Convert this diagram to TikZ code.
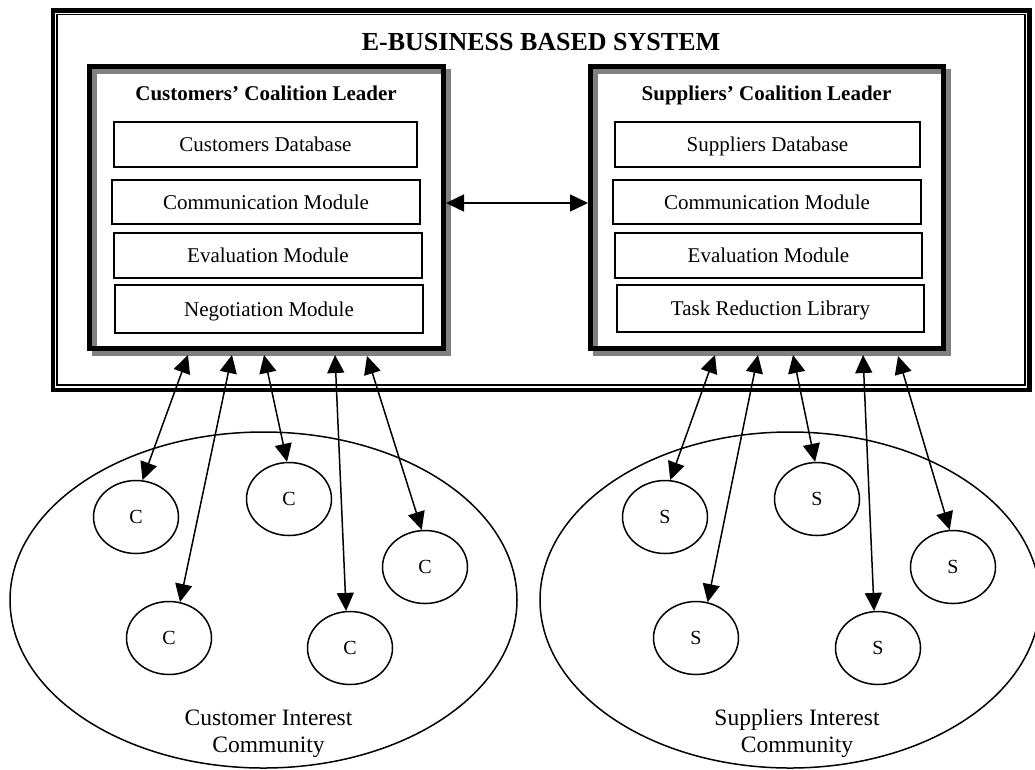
\documentclass[tikz,border=0pt]{standalone}
\usepackage{fontspec}
\setmainfont{Liberation Serif}
\usetikzlibrary{arrows.meta,shapes.geometric}
\tikzset{
  thickframe/.style={line width=4.5pt},
  thinframe/.style={line width=1.3pt},
  leader/.style={draw, rectangle, line width=5pt, inner sep=0pt},
  shadowline/.style={draw=black!50, line width=5pt},
  leadertitle/.style={font=\fontsize{21}{25}\selectfont\bfseries, anchor=base, inner sep=0pt},
  module/.style={draw, rectangle, line width=1.5pt, inner sep=0pt,
    font=\fontsize{21}{25}\selectfont, text height=14pt, text depth=0pt},
  member/.style={draw, ellipse, line width=1.5pt, inner sep=0pt,
    minimum width=85pt, minimum height=73pt, font=\fontsize{20}{24}\selectfont},
  community/.style={line width=1.5pt},
  commlabel/.style={font=\fontsize{23.5}{27}\selectfont, anchor=base, inner sep=0pt},
  dbl/.style={line width=1.5pt, {Triangle[length=18pt,width=17pt]}-{Triangle[length=18pt,width=17pt]}}
}
\begin{document}
\begin{tikzpicture}[x=1pt,y=-1pt]
\clip (0,0) rectangle (1035,769);
\fill[white] (0,0) rectangle (1035,769);

% outer frame
\draw[thickframe] (53,10.5) rectangle (1029.5,390);
\draw[thinframe] (57,14.5) rectangle (1025,385);
\node[font=\fontsize{26}{30}\selectfont\bfseries] (title) at (541,42) {E-BUSINESS BASED SYSTEM};

% leader boxes with shadows
\draw[shadowline] (94.5,71.5) rectangle (448.5,353.5);
\node[leader, minimum width=354pt, minimum height=282pt] (cl) at (266.5,207.5) {};
\draw[shadowline] (595.5,71.5) rectangle (948.5,353.5);
\node[leader, minimum width=353pt, minimum height=282pt] (sl) at (767,207.5) {};

\node[leadertitle] (clt) at (266,100) {Customers’ Coalition Leader};
\node[leadertitle] (slt) at (766.5,100) {Suppliers’ Coalition Leader};

% modules left
\node[module, minimum width=303pt, minimum height=45pt] (cdb) at (265.5,144.5) {Customers Database};
\node[module, minimum width=308pt, minimum height=44pt] (ccm) at (266,202) {Communication Module};
\node[module, minimum width=308pt, minimum height=45pt] (cev) at (268,255.5) {Evaluation Module};
\node[module, minimum width=308pt, minimum height=48pt] (cng) at (269,309) {Negotiation Module};

% modules right
\node[module, minimum width=305pt, minimum height=45pt] (sdb) at (767.5,144.5) {Suppliers Database};
\node[module, minimum width=308pt, minimum height=44pt] (scm) at (767,202) {Communication Module};
\node[module, minimum width=307pt, minimum height=45pt] (sev) at (768.5,255.5) {Evaluation Module};
\node[module, minimum width=307pt, minimum height=47pt] (str) at (770.5,308.5) {Task Reduction Library};

% link between leaders
\draw[dbl] ([yshift=4.5pt]cl.east) -- ([yshift=4.5pt]sl.west);

% communities
\draw[community] (263.5,600) ellipse [x radius=253.5pt, y radius=168pt];
\draw[community] (790,600) ellipse [x radius=250pt, y radius=168pt];

% customer members
\node[member] (c1) at (136,517) {C};
\node[member] (c2) at (289,499) {C};
\node[member] (c3) at (169,638) {C};
\node[member] (c4) at (425,567) {C};
\node[member] (c5) at (350,648) {C};

% supplier members
\node[member] (s1) at (665,517) {S};
\node[member] (s2) at (817,499) {S};
\node[member] (s3) at (696,638) {S};
\node[member] (s4) at (953,567) {S};
\node[member] (s5) at (878,648) {S};

% connector ends at leader boxes
\coordinate (ca1) at (188,355);
\coordinate (ca2) at (232,355);
\coordinate (ca3) at (264,355);
\coordinate (ca4) at (335,355);
\coordinate (ca5) at (367,356);
\coordinate (sa1) at (715,355);
\coordinate (sa2) at (758,355);
\coordinate (sa3) at (793,355);
\coordinate (sa4) at (863,355);
\coordinate (sa5) at (898,356);

\draw[dbl] (ca1) -- (c1.80);
\draw[dbl] (ca2) -- (c3.73);
\draw[dbl] (ca3) -- (c2.93);
\draw[dbl] (ca4) -- (c5.96);
\draw[dbl] (ca5) -- (c4.95);

\draw[dbl] (sa1) -- (s1.82);
\draw[dbl] (sa2) -- (s3.72);
\draw[dbl] (sa3) -- (s2.93);
\draw[dbl] (sa4) -- (s5.96);
\draw[dbl] (sa5) -- (s4.95);

% community labels
\node[commlabel] (cil1) at (268.5,725) {Customer Interest};
\node[commlabel] (cil2) at (268.5,752) {Community};
\node[commlabel] (sil1) at (797,725) {Suppliers Interest};
\node[commlabel] (sil2) at (797,752) {Community};
\end{tikzpicture}
\end{document}
